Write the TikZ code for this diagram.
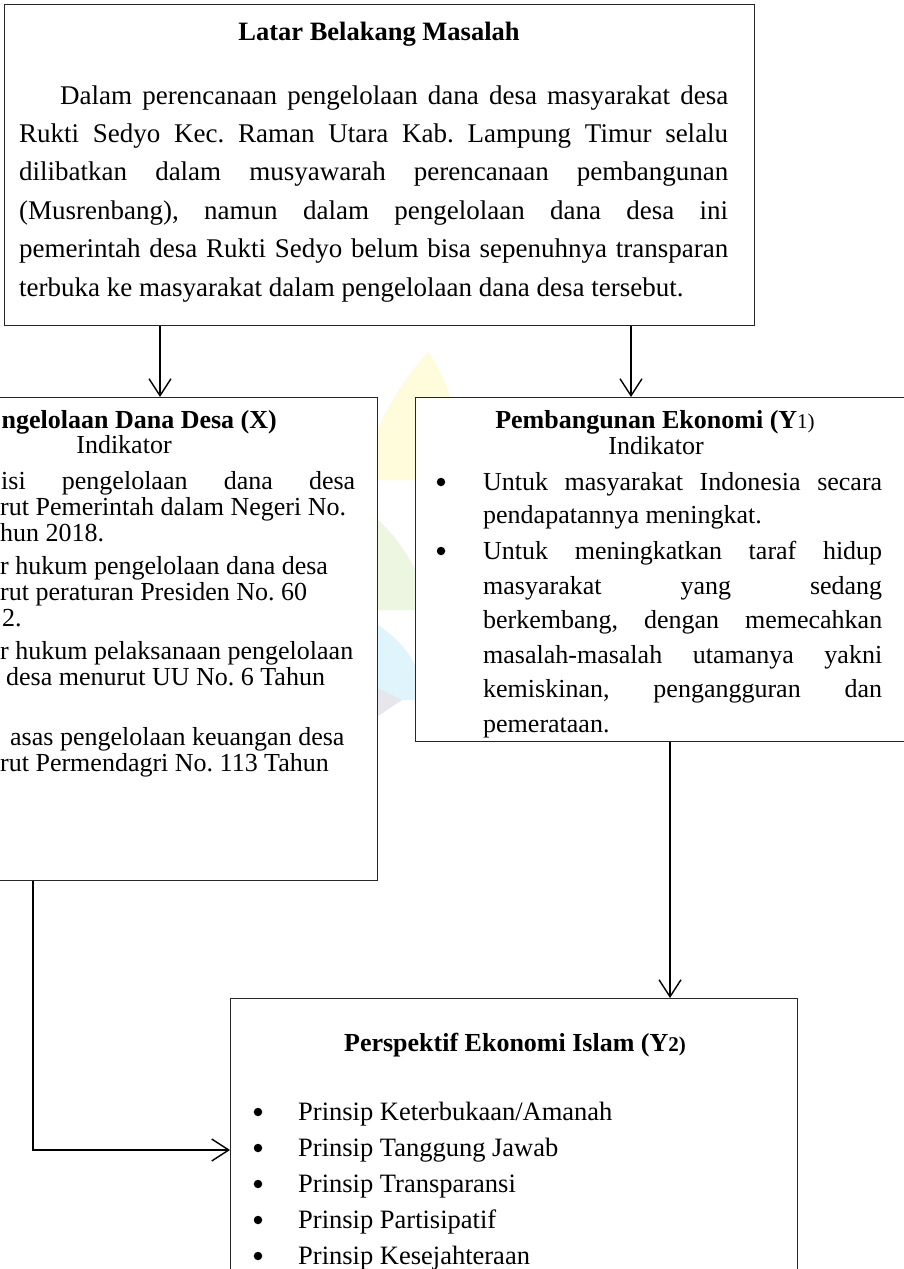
\documentclass[tikz,border=0pt]{standalone}
\usepackage{fontspec}
\setmainfont{Liberation Serif}
\usetikzlibrary{arrows.meta}
\newcommand{\jst}[2]{\makebox[#1pt][s]{#2}}
\definecolor{wmyellow}{RGB}{254,252,218}
\definecolor{wmgreen}{RGB}{236,246,224}
\definecolor{wmcyan}{RGB}{224,244,252}
\definecolor{wmgray}{RGB}{230,230,236}
\begin{document}
\frenchspacing
\begin{tikzpicture}[x=1pt,y=-1pt,
  box/.style={draw=black!85,line width=1.3pt,fill=white,inner sep=0pt,anchor=north west},
  conn/.style={line width=1.4pt,-{Straight Barb[length=17pt,width=22pt,line width=1.4pt]}},
  lnA/.style={anchor=base west,inner sep=0pt,font=\fontsize{27}{32}\selectfont},
  ttlA/.style={anchor=base,inner sep=0pt,font=\fontsize{26.5}{32}\selectfont\bfseries},
  lnB/.style={anchor=base west,inner sep=0pt,font=\fontsize{26}{30}\selectfont},
  ttlB/.style={anchor=base,inner sep=0pt,font=\fontsize{26}{30}\selectfont\bfseries},
  lnC/.style={anchor=base west,inner sep=0pt,font=\fontsize{26}{30}\selectfont},
  ttlC/.style={anchor=base,inner sep=0pt,font=\fontsize{26}{30}\selectfont\bfseries},
  lnD/.style={anchor=base west,inner sep=0pt,font=\fontsize{26.5}{30}\selectfont},
  ttlD/.style={anchor=base,inner sep=0pt,font=\fontsize{26}{30}\selectfont\bfseries},
  bul/.style={circle,fill=black,draw=none,inner sep=0pt,minimum size=8.5pt}
]
\useasboundingbox (0,0) rectangle (904,1269);
\clip (0,0) rectangle (904,1269);
\fill[white] (0,0) rectangle (904,1269);

% faint watermark fragments
\fill[wmyellow] (360,480) .. controls (372,430) and (398,385) .. (428,352) .. controls (452,385) and (462,430) .. (460,480) -- cycle;
\fill[wmgreen] (378,520) .. controls (400,540) and (420,570) .. (430,610) -- (378,610) -- cycle;
\fill[wmcyan] (378,625) .. controls (400,640) and (420,660) .. (425,700) -- (378,700) -- cycle;
\fill[wmgray] (378,688) -- (402,700) -- (378,716) -- cycle;

% boxes
\node[box,minimum width=750pt,minimum height=321pt] (top) at (4,4) {};
\node[box,minimum width=407pt,minimum height=483pt] (lx) at (-30,397) {};
\node[box,minimum width=525pt,minimum height=344pt] (rx) at (415,397) {};
\node[box,minimum width=567pt,minimum height=300pt] (bx) at (230,998) {};

% helper coordinates
\coordinate (c1) at (160,0);
\coordinate (c2) at (631,0);
\coordinate (c3) at (33,0);
\coordinate (c4) at (0,1150);
\coordinate (c5) at (670,0);

% connectors
\draw[conn] (top.south -| c1) -- (lx.north -| c1);
\draw[conn] (top.south -| c2) -- (rx.north -| c2);
\draw[conn] (rx.south -| c5) -- (bx.north -| c5);
\draw[conn] (lx.south -| c3) |- (bx.west |- c4);

% top box text
\node[ttlA] (t0) at (379,40) {Latar Belakang Masalah};
\node[lnA] (t1) at (60,104) {\jst{668}{Dalam perencanaan pengelolaan dana desa masyarakat desa}};
\node[lnA] (t2) at (19,142) {\jst{709}{Rukti Sedyo Kec. Raman Utara Kab. Lampung Timur selalu}};
\node[lnA] (t3) at (19,180) {\jst{709}{dilibatkan dalam musyawarah perencanaan pembangunan}};
\node[lnA] (t4) at (19,219) {\jst{709}{(Musrenbang), namun dalam pengelolaan dana desa ini}};
\node[lnA] (t5) at (19,257) {\jst{709}{pemerintah desa Rukti Sedyo belum bisa sepenuhnya transparan}};
\node[lnA] (t6) at (19,296) {terbuka ke masyarakat dalam pengelolaan dana desa tersebut.};

% left box text
\node[ttlB,anchor=base east] (lt) at (277,428) {ngelolaan Dana Desa (X)};
\node[lnB,anchor=base] (li) at (124,453) {Indikator};
\node[lnB] (l1) at (1,489) {\jst{354}{isi pengelolaan dana desa}};
\node[lnB] (l2) at (0,515) {rut Pemerintah dalam Negeri No.};
\node[lnB] (l3) at (0,541) {hun 2018.};
\node[lnB] (l4) at (0,574) {r hukum pengelolaan dana desa};
\node[lnB] (l5) at (0,600) {rut peraturan Presiden No. 60};
\node[lnB] (l6) at (2,626) {2.};
\node[lnB] (l7) at (0,659) {r hukum pelaksanaan pengelolaan};
\node[lnB] (l8) at (6,685) {desa menurut UU No. 6 Tahun};
\node[lnB] (l9) at (10,745) {asas pengelolaan keuangan desa};
\node[lnB] (l10) at (0,771) {rut Permendagri No. 113 Tahun};

% right box text
\node[ttlC] (rt) at (655,428) {Pembangunan Ekonomi (Y{\mdseries\fontsize{21}{22}\selectfont 1)}};
\node[lnC,anchor=base] (ri) at (656,454) {Indikator};
\node[bul] (rb1) at (441,482) {};
\node[lnC] (r1) at (483,490) {\jst{399}{Untuk masyarakat Indonesia secara}};
\node[lnC] (r2) at (483,523) {pendapatannya meningkat.};
\node[bul] (rb2) at (441,551) {};
\node[lnC] (r3) at (483,559) {\jst{399}{Untuk meningkatkan taraf hidup}};
\node[lnC] (r4) at (483,594) {\jst{399}{masyarakat yang sedang}};
\node[lnC] (r5) at (483,628) {\jst{399}{berkembang, dengan memecahkan}};
\node[lnC] (r6) at (483,663) {\jst{399}{masalah-masalah utamanya yakni}};
\node[lnC] (r7) at (483,697) {\jst{399}{kemiskinan, pengangguran dan}};
\node[lnC] (r8) at (483,732) {pemerataan.};

% bottom box text
\node[ttlD] (bt) at (515,1051) {Perspektif Ekonomi Islam (Y{\fontsize{21}{22}\selectfont 2)}};
\node[bul] (bb1) at (258,1112) {};
\node[lnD] (b1) at (298,1120) {Prinsip Keterbukaan/Amanah};
\node[bul] (bb2) at (258,1148) {};
\node[lnD] (b2) at (298,1156) {Prinsip Tanggung Jawab};
\node[bul] (bb3) at (258,1184) {};
\node[lnD] (b3) at (298,1192) {Prinsip Transparansi};
\node[bul] (bb4) at (258,1220) {};
\node[lnD] (b4) at (298,1228) {Prinsip Partisipatif};
\node[bul] (bb5) at (258,1256) {};
\node[lnD] (b5) at (298,1264) {Prinsip Kesejahteraan};
\end{tikzpicture}
\end{document}
